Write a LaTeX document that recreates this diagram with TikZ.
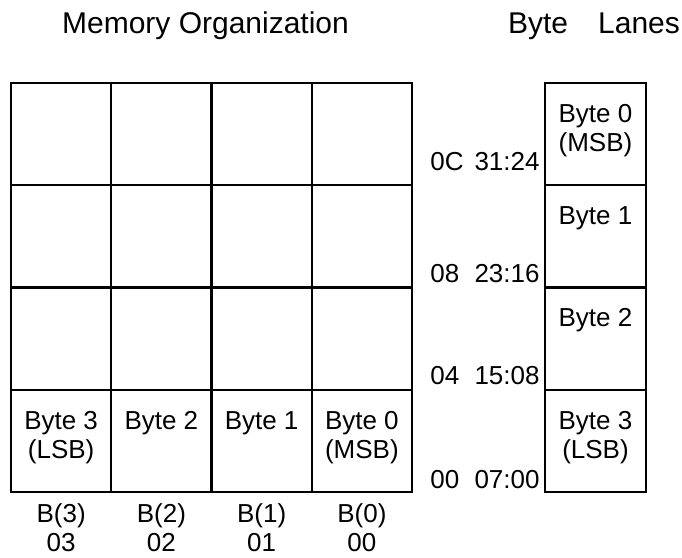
\documentclass[tikz,border=0pt]{standalone}
\usepackage{fontspec}
\setmainfont{Liberation Sans}
\newcommand{\lblfont}{\fontsize{13pt}{14.5pt}\selectfont}
\newcommand{\topstrut}{\rule{0pt}{19.5pt}}
\tikzset{
  cell/.style={draw, line width=1.15pt, minimum width=50.125pt, minimum height=51.125pt, inner sep=0pt, outer sep=0pt},
  lane/.style={cell, minimum width=50.5pt},
  celltext/.style={anchor=north, inner sep=0pt, align=center, font=\lblfont},
  addr/.style={inner sep=0pt, font=\lblfont},
  heading/.style={anchor=base, inner sep=0pt, font=\fontsize{15pt}{17pt}\selectfont}
}
\begin{document}
\begin{tikzpicture}[x=0.5pt, y=-0.5pt]
  \useasboundingbox (0,0) rectangle (682,558);

  % Headings
  \node[heading] (orgtitle) at (205.5,33) {Memory Organization};
  \node[heading] (lanetitle) at (594,33) {Byte\hspace{1em}Lanes};

  % Memory organization grid
  \foreach \row in {0,...,3}
    \foreach \col in {0,...,3}
      \node[cell] (m-\row-\col) at ({61.125+100.25*\col},{134.125+102.25*\row}) {};
  \foreach \col/\txt in {0/{Byte 3\\(LSB)}, 1/{Byte 2}, 2/{Byte 1}, 3/{Byte 0\\(MSB)}}
    \node[celltext] (mt-\col) at (m-3-\col.north) {\topstrut\txt};
  \foreach \col/\txt in {0/{B(3)\\03}, 1/{B(2)\\02}, 2/{B(1)\\01}, 3/{B(0)\\00}}
    \node[celltext] (ml-\col) at (m-3-\col.south) {\rule{0pt}{15pt}\txt};

  % Byte lanes
  \foreach \row/\txt in {0/{Byte 0\\(MSB)}, 1/{Byte 1}, 2/{Byte 2}, 3/{Byte 3\\(LSB)}} {
    \node[lane] (l-\row) at (595.5,{134.125+102.25*\row}) {};
    \node[celltext] (lt-\row) at (l-\row.north) {\topstrut\txt};
  }
  \foreach \row/\y/\adr/\bits in {0/170/0C/31:24, 1/282/08/23:16, 2/384/04/15:08, 3/488/00/07:00} {
    \node[addr, anchor=base west] (a-\row) at (430,\y) {\adr};
    \node[addr, anchor=base east] (b-\row) at (540,\y) {\bits};
  }
\end{tikzpicture}
\end{document}
